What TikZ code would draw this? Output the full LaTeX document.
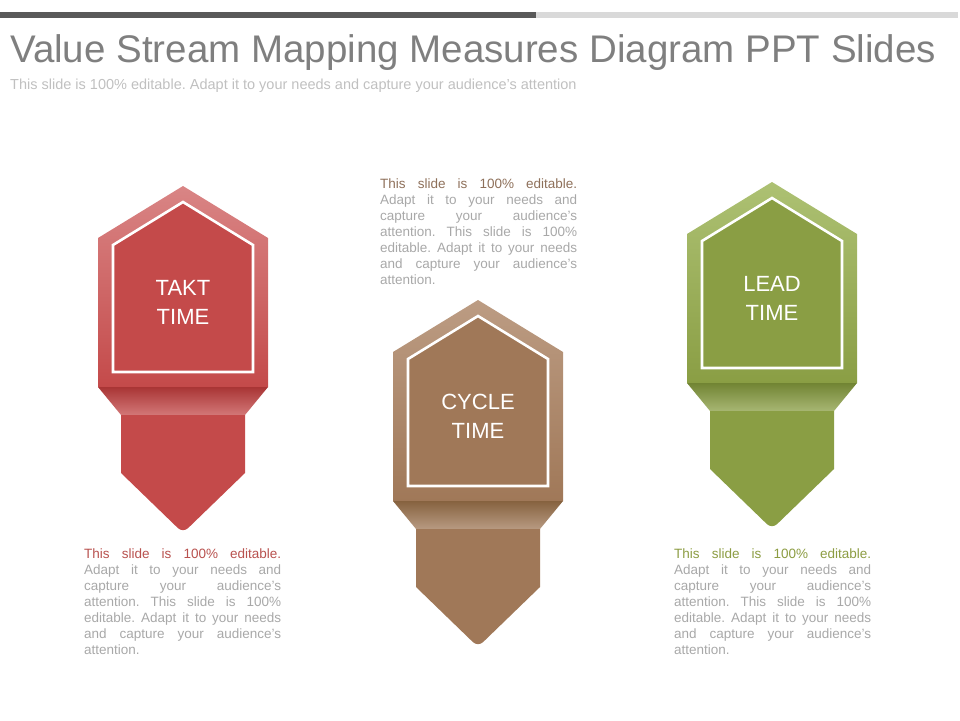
\documentclass[tikz,border=0pt]{standalone}
\usepackage{fontspec}
\setmainfont{Liberation Sans}
\usepackage{tikz}
\usetikzlibrary{shapes,arrows}
\definecolor{bardark}{HTML}{595959}
\definecolor{barlight}{HTML}{D9D9D9}
\definecolor{titlegray}{HTML}{7F7F7F}
\definecolor{subgray}{HTML}{C0C0C0}
\definecolor{blurbgray}{HTML}{A8A8A8}
\definecolor{taktmain}{HTML}{C44A4A}
\definecolor{taktlight}{HTML}{D98585}
\definecolor{taktdark}{HTML}{A93535}
\definecolor{taktline}{HTML}{B8514E}
\definecolor{cyclemain}{HTML}{A07858}
\definecolor{cyclelight}{HTML}{BC9C83}
\definecolor{cycledark}{HTML}{86623F}
\definecolor{cycleline}{HTML}{8E705A}
\definecolor{leadmain}{HTML}{8A9E44}
\definecolor{leadlight}{HTML}{ADC173}
\definecolor{leaddark}{HTML}{718433}
\definecolor{leadline}{HTML}{8C9C42}
\hbadness=10000
\frenchspacing

\begin{document}
\begin{tikzpicture}[x=1pt,y=-1pt,
  outline/.style={draw=white,line width=2.6pt},
  label/.style={text=white,align=center,font=\fontsize{22}{29}\selectfont},
  blurb/.style={anchor=north west,inner sep=0pt,text width=197pt,align=justify,text=blurbgray,font=\fontsize{13.5}{16}\selectfont}]
\useasboundingbox (0,0) rectangle (960,720);
\fill[bardark] (0,12) rectangle (536,18);
\fill[barlight] (536,12) rectangle (958,18);
\node[anchor=base west,inner sep=0pt,text=titlegray,font=\fontsize{38.5}{40}\selectfont] (title) at (10,62) {Value Stream Mapping Measures Diagram PPT Slides};
\node[anchor=base west,inner sep=0pt,text=subgray,font=\fontsize{14.5}{16}\selectfont] (subtitle) at (10,89) {This slide is 100\% editable. Adapt it to your needs and capture your audience's attention};

\begin{scope}[shift={(183,186)}]
\shade[top color=taktlight,bottom color=taktmain] (0,0) -- (85,52) -- (85,201) -- (-85,201) -- (-85,52) -- cycle;
\shade[top color=taktdark,bottom color=taktmain!75!white] (-85,201) -- (85,201) -- (62,229) -- (-62,229) -- cycle;
\fill[taktmain] (-62,229) -- (62,229) -- (62,287) [rounded corners=7pt] -- (0,347) [sharp corners] -- (-62,287) -- cycle;
\draw[outline,fill=taktmain] (0,16) -- (70,59) -- (70,186) -- (-70,186) -- (-70,59) -- cycle;
\node[label] (takt) at (0,116) {TAKT\\TIME};
\end{scope}

\begin{scope}[shift={(478,300)}]
\shade[top color=cyclelight,bottom color=cyclemain] (0,0) -- (85,52) -- (85,201) -- (-85,201) -- (-85,52) -- cycle;
\shade[top color=cycledark,bottom color=cyclemain!75!white] (-85,201) -- (85,201) -- (62,229) -- (-62,229) -- cycle;
\fill[cyclemain] (-62,229) -- (62,229) -- (62,287) [rounded corners=7pt] -- (0,347) [sharp corners] -- (-62,287) -- cycle;
\draw[outline,fill=cyclemain] (0,16) -- (70,59) -- (70,186) -- (-70,186) -- (-70,59) -- cycle;
\node[label] (cycle) at (0,116) {CYCLE\\TIME};
\end{scope}

\begin{scope}[shift={(772,182)}]
\shade[top color=leadlight,bottom color=leadmain] (0,0) -- (85,52) -- (85,201) -- (-85,201) -- (-85,52) -- cycle;
\shade[top color=leaddark,bottom color=leadmain!75!white] (-85,201) -- (85,201) -- (62,229) -- (-62,229) -- cycle;
\fill[leadmain] (-62,229) -- (62,229) -- (62,287) [rounded corners=7pt] -- (0,347) [sharp corners] -- (-62,287) -- cycle;
\draw[outline,fill=leadmain] (0,16) -- (70,59) -- (70,186) -- (-70,186) -- (-70,59) -- cycle;
\node[label] (lead) at (0,116) {LEAD\\TIME};
\end{scope}

\node[blurb] (takttext) at (84,549) {\textcolor{taktline}{This slide is 100\% editable.}\linebreak Adapt it to your needs and\linebreak capture your audience's\linebreak attention. This slide is 100\%\linebreak editable. Adapt it to your needs\linebreak and capture your audience's\linebreak attention.};
\node[blurb] (cycletext) at (380,179) {\textcolor{cycleline}{This slide is 100\% editable.}\linebreak Adapt it to your needs and\linebreak capture your audience's\linebreak attention. This slide is 100\%\linebreak editable. Adapt it to your needs\linebreak and capture your audience's\linebreak attention.};
\node[blurb] (leadtext) at (674,549) {\textcolor{leadline}{This slide is 100\% editable.}\linebreak Adapt it to your needs and\linebreak capture your audience's\linebreak attention. This slide is 100\%\linebreak editable. Adapt it to your needs\linebreak and capture your audience's\linebreak attention.};
\end{tikzpicture}
\end{document}
